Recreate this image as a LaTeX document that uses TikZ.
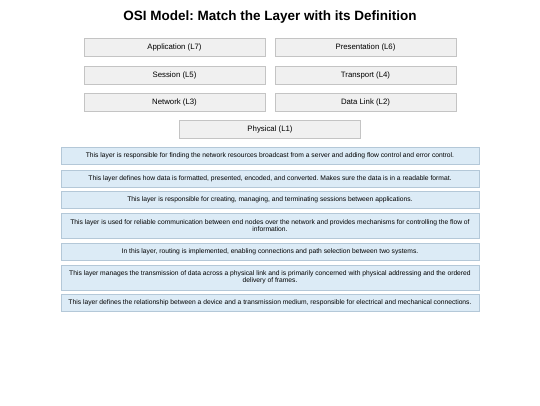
\documentclass[tikz,border=0pt]{standalone}
\usepackage{fontspec}
\setmainfont{Liberation Sans}
\frenchspacing
\definecolor{layfill}{HTML}{F0F0F0}
\definecolor{laydraw}{HTML}{C4C4C4}
\definecolor{deffill}{HTML}{DCEBF6}
\definecolor{defdraw}{HTML}{B4C8D8}
\begin{document}
\begin{tikzpicture}[x=1pt,y=-1pt,
  layerbox/.style={draw=laydraw,fill=layfill,line width=0.6pt,minimum width=181pt,minimum height=18pt,inner sep=0pt,font=\fontsize{7.8}{9}\selectfont},
  defbox/.style={draw=defdraw,fill=deffill,line width=0.6pt,minimum width=418pt,inner sep=0pt,align=center,font=\fontsize{6.72}{7.4}\selectfont},
  titlestyle/.style={font=\fontsize{13.5}{16}\selectfont\bfseries,inner sep=0pt}]
\useasboundingbox (0,0) rectangle (540,405);
\node[titlestyle] (title) at (270,17) {OSI Model: Match the Layer with its Definition};
\node[layerbox] (l7) at (174.5,47.5) {Application (L7)};
\node[layerbox] (l6) at (365.5,47.5) {Presentation (L6)};
\node[layerbox] (l5) at (174.5,75) {Session (L5)};
\node[layerbox] (l4) at (365.5,75) {Transport (L4)};
\node[layerbox] (l3) at (174.5,102.5) {Network (L3)};
\node[layerbox] (l2) at (365.5,102.5) {Data Link (L2)};
\node[layerbox] (l1) at (270,129) {Physical (L1)};
\node[defbox,minimum height=17pt] (d1) at (270,155.8) {This layer is responsible for finding the network resources broadcast from a server and adding flow control and error control.};
\node[defbox,minimum height=17pt] (d2) at (270,178.3) {This layer defines how data is formatted, presented, encoded, and converted. Makes sure the data is in a readable format.};
\node[defbox,minimum height=17pt] (d3) at (270,200) {This layer is responsible for creating, managing, and terminating sessions between applications.};
\node[defbox,minimum height=25pt] (d4) at (270,225.8) {This layer is used for reliable communication between end nodes over the network and provides mechanisms for controlling the flow of\\information.};
\node[defbox,minimum height=17pt] (d5) at (270,252) {In this layer, routing is implemented, enabling connections and path selection between two systems.};
\node[defbox,minimum height=25pt] (d6) at (270,277.5) {This layer manages the transmission of data across a physical link and is primarily concerned with physical addressing and the ordered\\delivery of frames.};
\node[defbox,minimum height=17pt] (d7) at (270,303) {This layer defines the relationship between a device and a transmission medium, responsible for electrical and mechanical connections.};
\end{tikzpicture}
\end{document}
